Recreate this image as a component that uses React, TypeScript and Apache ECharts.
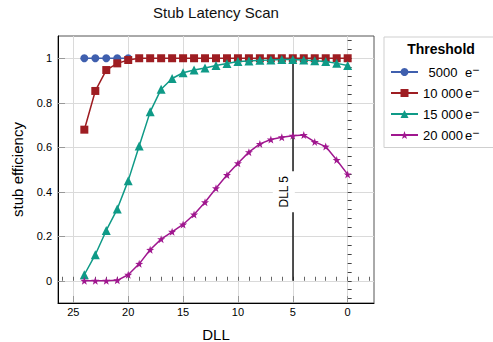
import React, { useEffect, useRef } from "react";
import * as echarts from "echarts";

// DLL settings scanned (high to low)
const dll = [24, 23, 22, 21, 20, 19, 18, 17, 16, 15, 14, 13, 12, 11, 10, 9, 8, 7, 6, 5, 4, 3, 2, 1, 0];
const dllLow = [24, 23, 22, 21, 20];

// stub efficiency per threshold
const eff5000 = [1, 1, 1, 1, 1];
const eff10000 = [
  0.679, 0.853, 0.947, 0.977, 0.992, 1, 1, 1, 1, 1, 1, 1, 1, 1, 1, 1, 1, 1, 1, 1, 1, 1, 1, 1, 1,
];
const eff15000 = [
  0.027, 0.117, 0.226, 0.322, 0.45, 0.606, 0.759, 0.861, 0.909, 0.935, 0.947, 0.956, 0.967,
  0.976, 0.985, 0.988, 0.991, 0.992, 0.994, 0.994, 0.992, 0.989, 0.985, 0.977, 0.967,
];
const eff20000 = [
  0, 0, 0, 0.002, 0.027, 0.076, 0.139, 0.187, 0.22, 0.253, 0.298, 0.353, 0.416, 0.475, 0.528,
  0.578, 0.615, 0.635, 0.645, 0.652, 0.655, 0.624, 0.603, 0.543, 0.478,
];

const seriesNames = ["5000", "10 000", "15 000", "20 000"];
const seriesColors = ["#3f5fae", "#9e1d22", "#0f9a87", "#a0178f"];

const xTickLabels = [0, 5, 10, 15, 20, 25];
const yTickLabels = [0, 0.2, 0.4, 0.6, 0.8, 1];

const markerDll = 5;
const markerText = "DLL 5";

const FONT = "'Liberation Sans', Arial, Helvetica, sans-serif";

const STAR =
  "path://M0,-10 L2.35,-3.24 L9.51,-3.09 L3.8,1.24 L5.88,8.09 L0,4 L-5.88,8.09 L-3.8,1.24 L-9.51,-3.09 L-2.35,-3.24 Z";

const pairs = (xs: number[], ys: number[]) => xs.map((x, i) => [x, ys[i]]);

// minor tick positions
const xMinor: number[] = [];
for (let v = -2; v <= 26; v++) xMinor.push(v);
const yMinor: number[] = [];
for (let i = -2; i <= 27; i++) yMinor.push(Math.round(i * 4) / 100);

export default function App() {
  const ref = useRef<HTMLDivElement>(null);

  useEffect(() => {
    const chart = echarts.init(ref.current!, null, { renderer: "svg" });

    const lineSeries = (idx: number, data: number[][], symbol: string, size: number) => ({
      name: seriesNames[idx],
      type: "line",
      data,
      symbol,
      symbolSize: size,
      color: seriesColors[idx],
      lineStyle: { width: 1.5, color: seriesColors[idx] },
      itemStyle: { color: seriesColors[idx] },
      z: 3 + idx,
    });

    const option: any = {
      animation: false,
      textStyle: { fontFamily: FONT },
      title: {
        text: "Stub Latency Scan",
        left: 216,
        top: 5,
        padding: 0,
        textAlign: "center",
        textStyle: { fontFamily: FONT, fontSize: 15, fontWeight: "normal", color: "#111" },
      },
      grid: {
        left: 58,
        top: 36,
        right: 119,
        bottom: 39,
        outerBoundsMode: "none",
        containLabel: false,
        show: true,
        borderColor: "#555",
        borderWidth: 1,
        backgroundColor: "transparent",
      },
      legend: {
        orient: "vertical",
        left: 384,
        top: 37,
        padding: [27, 30, 6, 6],
        itemWidth: 27,
        itemHeight: 10,
        itemGap: 6.5,
        borderColor: "#cfcfcf",
        borderWidth: 1,
        data: seriesNames,
        formatter: (name: string) => `{n|${name}}{e|e}{s|−}`,
        textStyle: {
          fontFamily: FONT,
          color: "#000",
          rich: {
            n: { fontSize: 13, width: 40, align: "right", lineHeight: 16, fontFamily: FONT },
            e: { fontSize: 13, padding: [0, 0, 0, 2], lineHeight: 16, fontFamily: FONT },
            s: { fontSize: 12, verticalAlign: "top", lineHeight: 2, fontFamily: FONT },
          },
        },
      },
      graphic: [
        {
          type: "text",
          x: 441,
          y: 49,
          style: {
            text: "Threshold",
            fontFamily: FONT,
            fontSize: 14,
            fontWeight: "bold",
            fill: "#000",
            textAlign: "center",
            textVerticalAlign: "middle",
          },
          z: 20,
        },
      ],
      xAxis: [
        {
          type: "value",
          min: -2.4,
          max: 26.4,
          inverse: true,
          position: "bottom",
          name: "DLL",
          nameLocation: "middle",
          nameGap: 24,
          nameTextStyle: { fontFamily: FONT, fontSize: 15, color: "#000" },
          axisLine: { show: true, onZero: false, lineStyle: { color: "#000", width: 1 } },
          axisTick: {
            show: true,
            inside: true,
            length: 7,
            customValues: xTickLabels,
            lineStyle: { color: "#999" },
          },
          axisLabel: {
            customValues: xTickLabels,
            fontFamily: FONT,
            fontSize: 11,
            color: "#000",
            margin: 3,
          },
          splitLine: { show: true, lineStyle: { color: "#dadada", width: 1 } },
        },
        {
          type: "value",
          min: -2.4,
          max: 26.4,
          inverse: true,
          position: "bottom",
          axisLine: { show: false },
          axisTick: {
            show: true,
            inside: true,
            length: 4,
            customValues: xMinor,
            lineStyle: { color: "#666" },
          },
          axisLabel: { show: false },
          splitLine: { show: false },
        },
      ],
      yAxis: [
        {
          type: "value",
          min: -0.1,
          max: 1.1,
          position: "left",
          name: "stub efficiency",
          nameLocation: "middle",
          nameGap: 33,
          nameTextStyle: { fontFamily: FONT, fontSize: 15, color: "#000" },
          axisLine: { show: true, onZero: false, lineStyle: { color: "#000", width: 1 } },
          axisTick: {
            show: true,
            inside: true,
            length: 7,
            customValues: yTickLabels,
            lineStyle: { color: "#999" },
          },
          axisLabel: {
            customValues: yTickLabels,
            fontFamily: FONT,
            fontSize: 11,
            color: "#000",
            margin: 6,
          },
          splitLine: { show: true, lineStyle: { color: "#dadada", width: 1 } },
        },
        {
          type: "value",
          min: -0.1,
          max: 1.1,
          position: "left",
          axisLine: { show: false },
          axisTick: {
            show: true,
            inside: true,
            length: 4,
            customValues: yMinor,
            lineStyle: { color: "#444" },
          },
          axisLabel: { show: false },
          splitLine: { show: false },
        },
      ],
      series: [
        lineSeries(0, pairs(dllLow, eff5000), "circle", 8),
        lineSeries(1, pairs(dll, eff10000), "rect", 8),
        lineSeries(2, pairs(dll, eff15000), "triangle", 9),
        lineSeries(3, pairs(dll, eff20000), STAR, 8),
        {
          name: "marker",
          type: "line",
          data: [],
          z: 10,
          markLine: {
            silent: true,
            symbol: "none",
            label: { show: false },
            lineStyle: { color: "#1a1a1a", width: 1.5, type: "solid" },
            data: [[{ coord: [markerDll, 0] }, { coord: [markerDll, 1] }]],
          },
          markPoint: {
            silent: true,
            z: 12,
            symbol: "rect",
            symbolSize: [22, 41],
            symbolOffset: [-9, 0],
            itemStyle: { color: "#fff" },
            label: {
              show: true,
              position: "inside",
              rotate: 90,
              formatter: markerText,
              fontFamily: FONT,
              fontSize: 12,
              color: "#000",
            },
            data: [{ coord: [markerDll, 0.4] }],
          },
        },
      ],
    };

    chart.setOption(option);
    return () => chart.dispose();
  }, []);

  return (
    <div
      ref={ref}
      style={{ position: "absolute", left: 0, top: 0, width: 493, height: 342, background: "#fff" }}
    />
  );
}
